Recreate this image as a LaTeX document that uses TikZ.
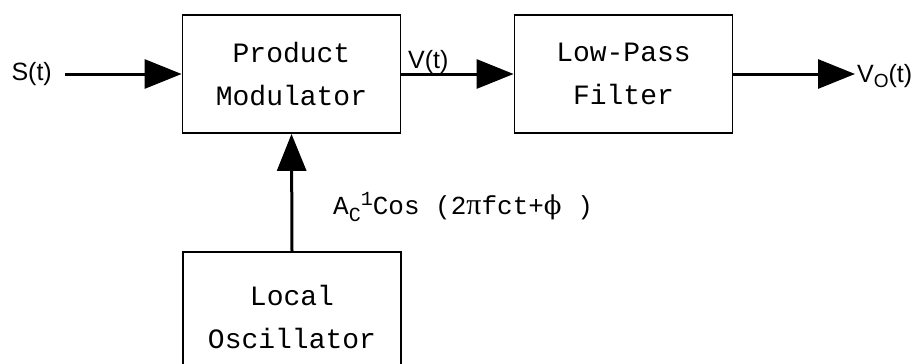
\documentclass[tikz,border=0pt]{standalone}
\usepackage{fontspec}
\setmainfont{Liberation Sans}
\newfontfamily\boxfont{Liberation Mono}
\newfontfamily\grkfont{Liberation Serif}
\newfontfamily\phifont{DejaVu Serif}
\usetikzlibrary{arrows.meta}
\tikzset{
  blk/.style={draw=black, line width=1.8pt, minimum width=218pt, minimum height=118pt,
    inner sep=0pt, align=center, font=\boxfont\fontsize{28}{43}\selectfont},
  conn/.style={line width=3pt, -{Triangle[length=37pt,width=29pt]}},
  sig/.style={inner sep=0pt, font=\fontsize{25}{30}\selectfont}
}
\begin{document}
\begin{tikzpicture}[x=1pt,y=-1pt]
\useasboundingbox (0,0) rectangle (922,364);
\node[blk] (pm) at (291.5,74) {Product\\Modulator};
\node[blk] (lpf) at (623.5,74) {Low-Pass\\Filter};
\node[blk, minimum height=130pt, anchor=north] (lo) at (292,251) {Local\\Oscillator};
\node[sig, anchor=east] (s) at (52,74) {S(t)};
\coordinate (sin) at (65,74);
\coordinate (vout) at (855,74);
\node[sig, anchor=west] (vo) at (857,76) {V\raisebox{-5pt}{\fontsize{19}{20}\selectfont O}(t)};
\node[sig, anchor=south west] (vt) at (408,74) {V(t)};
\node[inner sep=0pt, anchor=west, font=\boxfont\fontsize{26}{30}\selectfont] (lab) at (333,207)
  {A\raisebox{-7pt}{\fontsize{20}{20}\selectfont C}\raisebox{9pt}{\fontsize{20}{20}\selectfont 1}Cos (2{\grkfont\fontsize{30}{30}\selectfont π}fct+{\phifont\fontsize{26}{30}\selectfont ϕ} )};
\draw[conn] (sin) -- (pm.west);
\draw[conn] (pm.east) -- (lpf.west);
\draw[conn] (lpf.east) -- (vout);
\draw[conn] (lo.north) -- (pm.south);
\end{tikzpicture}
\end{document}
